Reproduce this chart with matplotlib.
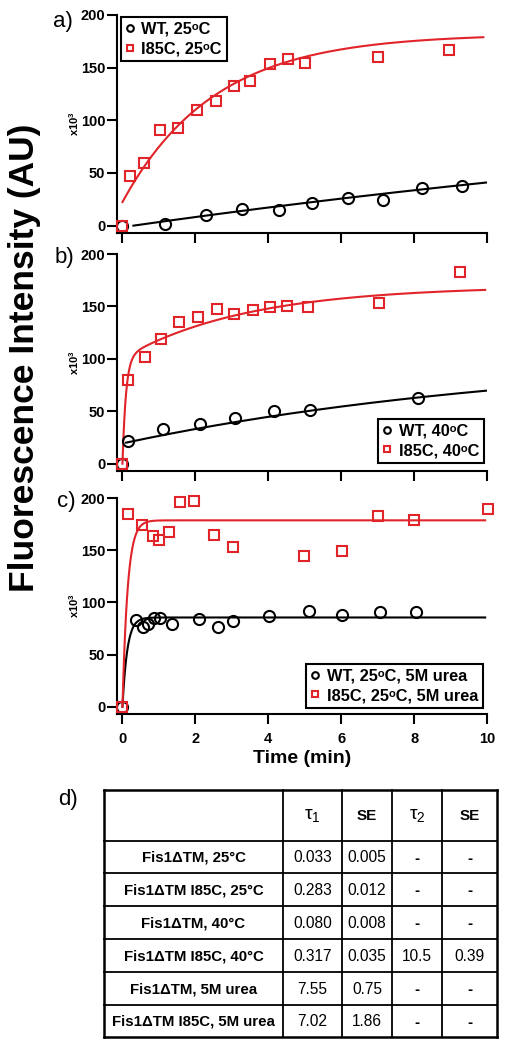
import numpy as np
import matplotlib
matplotlib.use("Agg")
import matplotlib.pyplot as plt

plt.rcParams['font.family'] = ['Liberation Sans', 'DejaVu Sans']
plt.rcParams['mathtext.default'] = 'regular'

# ---------------- data ----------------
a_wt_t = [0, 1.18, 2.28, 3.28, 4.30, 5.20, 6.19, 7.15, 8.21, 9.32]
a_wt_y = [0, 1.6, 10.4, 16.1, 15.2, 21.5, 26.2, 24.6, 35.4, 37.3]
a_mut_t = [0, 0.21, 0.58, 1.03, 1.53, 2.05, 2.56, 3.06, 3.51, 4.05, 4.53, 5.00, 7.00, 8.97]
a_mut_y = [0, 46.8, 59.4, 90.4, 92.9, 110.0, 118.5, 133.0, 137.5, 153.6, 158.6, 154.2, 159.9, 166.5]

b_wt_t = [0, 0.15, 1.12, 2.13, 3.09, 4.16, 5.15, 8.12]
b_wt_y = [0, 21.2, 32.6, 37.4, 43.1, 50.7, 51.0, 63.0]
b_mut_t = [0, 0.15, 0.63, 1.05, 1.55, 2.06, 2.58, 3.05, 3.59, 4.05, 4.52, 5.08, 7.05, 9.26]
b_mut_y = [0, 79.9, 101.4, 118.5, 135.0, 139.5, 148.0, 143.0, 146.8, 149.6, 150.0, 149.0, 153.0, 182.9]

c_wt_t = [0, 0.36, 0.55, 0.71, 0.86, 1.04, 1.36, 2.10, 2.61, 3.03, 4.02, 5.11, 6.02, 7.06, 8.04]
c_wt_y = [0, 82.9, 75.9, 79.4, 85.2, 85.2, 78.8, 84.5, 76.6, 82.3, 86.8, 91.5, 88.0, 90.6, 90.9]
c_mut_t = [0, 0.16, 0.54, 0.83, 1.01, 1.28, 1.57, 1.97, 2.50, 3.04, 4.97, 6.01, 7.02, 8.01, 10.02]
c_mut_y = [0, 185.0, 174.2, 164.0, 159.8, 167.5, 196.5, 197.1, 164.9, 153.1, 144.2, 149.3, 182.8, 178.6, 189.2]

# fit parameters: (t_start, t_end, plateau, [(amplitude, rate), ...])
a_wt_fit = (0.3, 10.0, 149.7, [(151.2, 0.033)])
a_mut_fit = (0.0, 9.9, 182.0, [(159.6, 0.398)])
b_wt_fit = (0.1, 10.0, 107.3, [(88.0, 0.085)])
b_mut_fit = (0.0, 9.95, 169.6, [(100.6, 10.5), (69.0, 0.29)])
c_wt_fit = (0.0, 9.95, 85.5, [(85.5, 7.55)])
c_mut_fit = (0.0, 9.95, 178.6, [(178.6, 7.02)])

labels_a = ["WT, 25ᵒC", "I85C, 25ᵒC"]
labels_b = ["WT, 40ᵒC", "I85C, 40ᵒC"]
labels_c = ["WT, 25ᵒC, 5M urea", "I85C, 25ᵒC, 5M urea"]

xticks = [0, 2, 4, 6, 8, 10]
yticks = [0, 50, 100, 150, 200]

table_cols = ["", r"$\tau_1$", "SE", r"$\tau_2$", "SE"]
table_rows = ["Fis1ΔTM, 25°C", "Fis1ΔTM I85C, 25°C", "Fis1ΔTM, 40°C",
              "Fis1ΔTM I85C, 40°C", "Fis1ΔTM, 5M urea", "Fis1ΔTM I85C, 5M urea"]
tau1 = ["0.033", "0.283", "0.080", "0.317", "7.55", "7.02"]
se1 = ["0.005", "0.012", "0.008", "0.035", "0.75", "1.86"]
tau2 = ["-", "-", "-", "10.5", "-", "-"]
se2 = ["-", "-", "-", "0.39", "-", "-"]

RED = '#e0242a'

W, H = 508, 1048
fig = plt.figure(figsize=(W / 100, H / 100), dpi=100)

def fig_rect(left, top, right, bottom):
    return [left / W, 1 - bottom / H, (right - left) / W, (bottom - top) / H]

def fit_curve(p):
    t0, t1, plateau, terms = p
    t = np.linspace(t0, t1, 400)
    y = np.full_like(t, plateau)
    for amp, k in terms:
        y = y - amp * np.exp(-k * t)
    return t, y

def panel(rect, wt, mut, fwt, fmut, labels, leg_loc, leg_anchor, tick_labels, letter, letter_xy):
    ax = fig.add_axes(rect)
    ax.set_xlim(-0.15, 10.0)
    ax.set_ylim(-7, 200)
    for s in ['top', 'right']:
        ax.spines[s].set_visible(False)
    for s in ['left', 'bottom']:
        ax.spines[s].set_linewidth(1.5)
    ax.set_xticks(xticks)
    ax.set_yticks(yticks)
    ax.tick_params(direction='out', length=7, width=1.5, labelsize=10.5, pad=1.5)
    ax.tick_params(axis='x', pad=6)
    for lab in ax.get_yticklabels():
        lab.set_fontweight('bold')
    if tick_labels:
        for lab in ax.get_xticklabels():
            lab.set_fontweight('bold')
    else:
        ax.set_xticklabels([])
    tw, yw = fit_curve(fwt)
    tm, ym = fit_curve(fmut)
    ax.plot(tw, yw, color='black', lw=1.5, zorder=2)
    ax.plot(tm, ym, color=RED, lw=1.5, zorder=2)
    h1, = ax.plot(wt[0], wt[1], 'o', mfc='none', mec='black', mew=1.5, ms=8,
                  clip_on=False, zorder=3, label=labels[0])
    h2, = ax.plot(mut[0], mut[1], 's', mfc='none', mec=RED, mew=1.5, ms=6.5,
                  clip_on=False, zorder=4, label=labels[1])
    leg = ax.legend(handles=[h1, h2], loc=leg_loc, bbox_to_anchor=leg_anchor,
                    bbox_transform=fig.transFigure, borderaxespad=0,
                    fancybox=False, framealpha=1, edgecolor='black',
                    prop={'weight': 'bold', 'size': 11.8}, handlelength=0.5,
                    handletextpad=0.45, labelspacing=0.28, borderpad=0.3,
                    markerscale=0.6)
    leg.get_frame().set_linewidth(1.5)
    ax.text(-0.115, 0.5, r'x10$^{3}$', transform=ax.transAxes, rotation=90,
            ha='center', va='center', fontsize=8, fontweight='bold')
    fig.text(letter_xy[0] / W, 1 - letter_xy[1] / H, letter, fontsize=16,
             ha='center', va='center')
    return ax

panel(fig_rect(117, 15, 487, 233), (a_wt_t, a_wt_y), (a_mut_t, a_mut_y),
      a_wt_fit, a_mut_fit, labels_a, 'upper left', (121 / W, 1 - 17 / H),
      False, "a)", (63, 22))
panel(fig_rect(117, 254, 487, 471), (b_wt_t, b_wt_y), (b_mut_t, b_mut_y),
      b_wt_fit, b_mut_fit, labels_b, 'lower right', (484 / W, 1 - 463 / H),
      False, "b)", (64, 258))
axc = panel(fig_rect(117, 498, 487, 714), (c_wt_t, c_wt_y), (c_mut_t, c_mut_y),
            c_wt_fit, c_mut_fit, labels_c, 'lower right', (483 / W, 1 - 708 / H),
            True, "c)", (66, 501))
axc.set_xlabel("Time (min)", fontsize=14, fontweight='bold', labelpad=3)

fig.text(25 / W, 1 - 358 / H, "Fluorescence Intensity (AU)", rotation=90,
         fontsize=25.5, fontweight='bold', ha='center', va='center')

# ---------------- table ----------------
tax = fig.add_axes([0, 0, 1, 1])
tax.set_xlim(0, W)
tax.set_ylim(H, 0)
tax.axis('off')
col_edges = [104, 283, 342, 392, 442, 497]
row_edges = [790, 841, 873, 906, 939, 972, 1005, 1037]
for x in col_edges:
    lw = 1.8 if x in (col_edges[0], col_edges[-1]) else 1.3
    tax.plot([x, x], [row_edges[0], row_edges[-1]], color='black', lw=lw)
for y in row_edges:
    lw = 1.8 if y in (row_edges[0], row_edges[-1]) else 1.3
    tax.plot([col_edges[0], col_edges[-1]], [y, y], color='black', lw=lw)
fig.text(68 / W, 1 - 800 / H, "d)", fontsize=16, ha='center', va='center')

cx = [(col_edges[i] + col_edges[i + 1]) / 2 for i in range(5)]
cy = [(row_edges[i] + row_edges[i + 1]) / 2 for i in range(7)]
for i, head in enumerate(table_cols):
    if head:
        is_se = head == "SE"
        tax.text(cx[i], cy[0], head, ha='center', va='center',
                 fontsize=11 if is_se else 14,
                 fontweight='bold' if is_se else 'normal')
for r in range(6):
    y = cy[r + 1] + 1
    tax.text(cx[0], y, table_rows[r], ha='center', va='center', fontsize=10.8,
             fontweight='bold')
    for j, col in enumerate([tau1, se1, tau2, se2]):
        v = col[r]
        tax.text(cx[j + 1], y, v, ha='center', va='center', fontsize=11.2,
                 fontweight='bold' if v == '-' else 'normal')

fig.savefig("out.png", dpi=100)
